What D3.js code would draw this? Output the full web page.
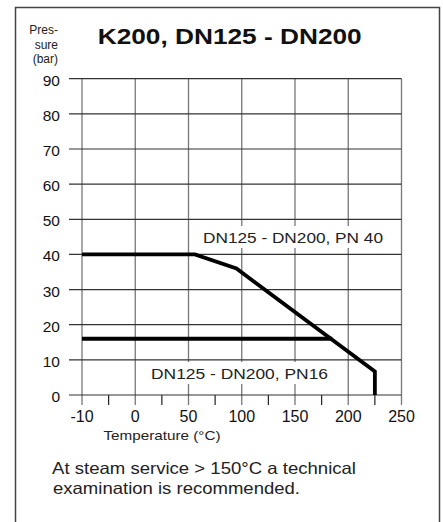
<!DOCTYPE html>
<html><head><meta charset="utf-8">
<script src="https://cdn.jsdelivr.net/npm/d3@7"></script>
<style>html,body{margin:0;padding:0;background:#fff;}svg{display:block;font-family:"Liberation Sans",Arial,sans-serif;}</style>
</head><body>
<script>
const xTicks = [-10, 0, 50, 100, 150, 200, 250];
const yTicks = [0, 10, 20, 30, 40, 50, 60, 70, 80, 90];
const pn40Temp = [-10, 56, 95, 225, 225];
const pn40Pres = [40, 40, 36, 6.7, 0];
const pn16Temp = [-10, 185];
const pn16Pres = [16, 16];
const labels = ["DN125 - DN200, PN 40", "DN125 - DN200, PN16"];

const W = 443, H = 522;
const svg = d3.select("body").append("svg").attr("width", W).attr("height", H);
const L = 82, R = 401.5, T = 78.7, B = 395;

svg.append("rect").attr("x", 15.5).attr("y", 7.5).attr("width", 424).attr("height", 530)
  .attr("fill", "none").attr("stroke", "#444").attr("stroke-width", 1.5);

const x = d3.scaleLinear().domain(xTicks)
  .range(xTicks.map((d, i) => L + (R - L) * i / (xTicks.length - 1)));
const y = d3.scaleLinear().domain([0, 90]).range([B, T]);

function txt(s, px, py, size, len, opts = {}) {
  const t = svg.append("text").attr("x", px).attr("y", py).attr("font-size", size)
    .attr("fill", opts.fill || "#1a1a1a").text(s);
  if (len) t.attr("textLength", len).attr("lengthAdjust", "spacingAndGlyphs");
  if (opts.anchor) t.attr("text-anchor", opts.anchor);
  if (opts.bold) t.attr("font-weight", "bold");
  return t;
}

// vertical grid
svg.append("g").selectAll("line").data(xTicks).join("line")
  .attr("x1", d => x(d)).attr("x2", d => x(d)).attr("y1", T).attr("y2", B + 10)
  .attr("stroke", "#777").attr("stroke-width", 1.3);
// minor ticks
const mids = xTicks.slice(0, -1).map((d, i) => (x(d) + x(xTicks[i + 1])) / 2);
svg.append("g").selectAll("line").data(mids).join("line")
  .attr("x1", d => d).attr("x2", d => d).attr("y1", B).attr("y2", B + 10)
  .attr("stroke", "#222").attr("stroke-width", 1.2);
// horizontal grid
svg.append("g").selectAll("line").data(yTicks).join("line")
  .attr("x1", 69).attr("x2", R).attr("y1", d => y(d)).attr("y2", d => y(d))
  .attr("stroke", "#333").attr("stroke-width", 1.2);

// y labels
svg.append("g").selectAll("text").data(yTicks).join("text")
  .attr("x", 60).attr("y", d => y(d) + 7).attr("text-anchor", "end")
  .attr("font-size", 15.5).attr("fill", "#111").text(d => d);
// x labels
svg.append("g").selectAll("text").data(xTicks).join("text")
  .attr("x", d => x(d)).attr("y", 422).attr("text-anchor", "middle")
  .attr("font-size", 16).attr("fill", "#111").text(d => d);

txt("Temperature (°C)", 103.5, 440, 13.5, 117, { fill: "#222" });

// y axis title
["Pres-", "sure", "(bar)"].forEach((t, i) => {
  txt(t, 58, 34 + i * 14.5, 12, null, { anchor: "end", fill: "#222" });
});
txt("K200, DN125 - DN200", 97.7, 43.5, 22, 264, { bold: true, fill: "#111" });

const line = d3.line().x(d => x(d[0])).y(d => y(d[1]));
svg.append("path").datum(pn40Temp.map((t, i) => [t, pn40Pres[i]]))
  .attr("d", line).attr("fill", "none").attr("stroke", "#000").attr("stroke-width", 3.8)
  .attr("stroke-linejoin", "miter");
svg.append("path").datum(pn16Temp.map((t, i) => [t, pn16Pres[i]]))
  .attr("d", line).attr("fill", "none").attr("stroke", "#000").attr("stroke-width", 3.8);

svg.append("rect").attr("x", 197).attr("y", 226).attr("width", 192).attr("height", 22).attr("fill", "#fff");
txt(labels[0], 203, 243, 15, 180, { fill: "#222" });
svg.append("rect").attr("x", 145).attr("y", 362).attr("width", 189).attr("height", 22).attr("fill", "#fff");
txt(labels[1], 151, 379, 15, 177, { fill: "#222" });

txt("At steam service > 150°C a technical", 52, 474, 16.5, 304, { fill: "#222" });
txt("examination is recommended.", 53, 493.5, 16.5, 247, { fill: "#222" });
</script>
</body></html>
